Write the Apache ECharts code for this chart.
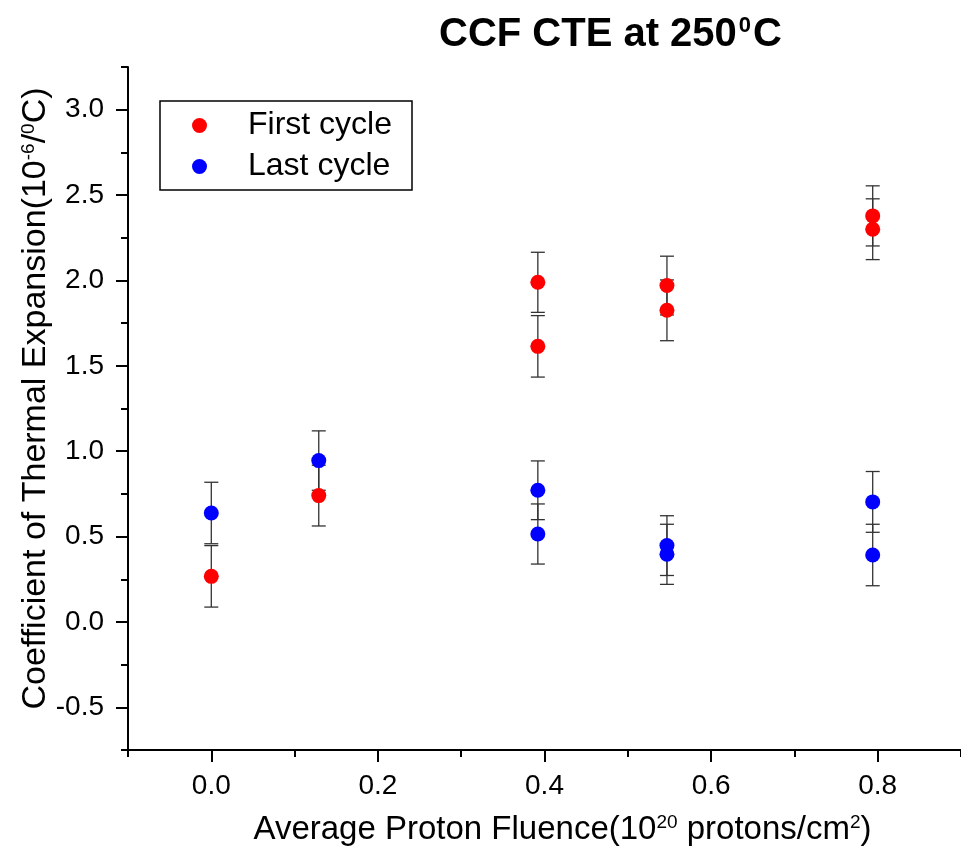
<!DOCTYPE html>
<html>
<head>
<meta charset="utf-8">
<script src="https://cdn.jsdelivr.net/npm/echarts@6/dist/echarts.min.js"></script>
<style>html,body{margin:0;padding:0;background:#fff}#c{width:961px;height:855px}</style>
</head>
<body>
<div id="c"></div>
<script>
// ---- data ----
var firstX   = [0.0, 0.129, 0.392, 0.392, 0.547, 0.547, 0.794, 0.794];
var firstY   = [0.267, 0.740, 1.989, 1.614, 1.970, 1.825, 2.378, 2.300];
var firstErr = [0.180, 0.178, 0.176, 0.180, 0.172, 0.178, 0.176, 0.178];
var lastX    = [0.0, 0.129, 0.392, 0.392, 0.547, 0.547, 0.794, 0.794];
var lastY    = [0.638, 0.945, 0.771, 0.515, 0.447, 0.396, 0.703, 0.392];
var lastErr  = [0.180, 0.174, 0.172, 0.176, 0.175, 0.176, 0.178, 0.180];
var xMajorTicks = [0.0, 0.2, 0.4, 0.6, 0.8];
var xMinorTicks = [-0.1, 0.1, 0.3, 0.5, 0.7, 0.9];
var yMajorTicks = [-0.5, 0.0, 0.5, 1.0, 1.5, 2.0, 2.5, 3.0];
var yMinorTicks = [-0.75, -0.25, 0.25, 0.75, 1.25, 1.75, 2.25, 2.75, 3.25];

var FONT = 'Liberation Sans, Arial, sans-serif';
function pts(xs, ys) { return xs.map(function (x, i) { return [x, ys[i]]; }); }
function errs(xs, ys, es) { return xs.map(function (x, i) { return [x, ys[i] - es[i], ys[i] + es[i]]; }); }

function errRender(params, api) {
  var x = api.value(0), lo = api.value(1), hi = api.value(2);
  var pLo = api.coord([x, lo]), pHi = api.coord([x, hi]);
  var hw = 7;
  var st = { stroke: '#333', lineWidth: 1.3 };
  return {
    type: 'group',
    children: [
      { type: 'line', shape: { x1: pLo[0], y1: pLo[1], x2: pHi[0], y2: pHi[1] }, style: st },
      { type: 'line', shape: { x1: pLo[0] - hw, y1: pLo[1], x2: pLo[0] + hw, y2: pLo[1] }, style: st },
      { type: 'line', shape: { x1: pHi[0] - hw, y1: pHi[1], x2: pHi[0] + hw, y2: pHi[1] }, style: st }
    ]
  };
}

function tickAxis(kind, min, max, values, len) {
  return {
    type: 'value', min: min, max: max, position: kind === 'x' ? 'bottom' : 'left',
    axisLine: { show: false, onZero: false },
    axisTick: { show: true, length: len, lineStyle: { color: '#000', width: 2 }, customValues: values },
    axisLabel: { show: false }, splitLine: { show: false }
  };
}

var supStyle = { fontFamily: FONT, fontSize: 19, color: '#000', verticalAlign: 'top', lineHeight: 16 };
var axisLineStyle = { color: '#000', width: 2 };
var chart = echarts.init(document.getElementById('c'), null, { renderer: 'canvas' });
chart.setOption({
  animation: false,
  backgroundColor: '#fff',
  title: {
    text: 'CCF CTE at 250{sup|0}C',
    left: 434, top: 10,
    textStyle: {
      fontFamily: FONT, fontSize: 40, fontWeight: 'bold', color: '#000',
      rich: { sup: { fontFamily: FONT, fontSize: 22, fontWeight: 'bold', color: '#000', verticalAlign: 'top', lineHeight: 17, padding: [0, 2, 0, 2] } }
    }
  },
  legend: {
    orient: 'vertical',
    left: 160, top: 101,
    padding: [8, 20, 7, 32],
    itemGap: 8,
    itemWidth: 15, itemHeight: 15,
    borderColor: '#000', borderWidth: 1.5, borderRadius: 0,
    icon: 'circle',
    data: ['First cycle', 'Last cycle'],
    textStyle: { fontFamily: FONT, fontSize: 32, color: '#000', lineHeight: 33, padding: [0, 0, 0, 36] }
  },
  grid: { left: 128, right: -5, top: 67, bottom: 105, containLabel: false },
  xAxis: [{
    type: 'value', min: -0.1, max: 0.9,
    axisLine: { show: true, onZero: false, lineStyle: axisLineStyle },
    axisTick: { show: false },
    axisLabel: { fontFamily: FONT, fontSize: 28, color: '#000', margin: 22, customValues: xMajorTicks,
      formatter: function (v) { return v.toFixed(1); } },
    splitLine: { show: false },
    name: 'Average Proton Fluence(10{sup|20} protons/cm{sup|2})',
    nameLocation: 'middle', nameGap: 63,
    nameTextStyle: { fontFamily: FONT, fontSize: 33, color: '#000', padding: [0, 0, 0, 36], rich: { sup: supStyle } }
  },
  tickAxis('x', -0.1, 0.9, xMajorTicks, 12),
  tickAxis('x', -0.1, 0.9, xMinorTicks, 7)],
  yAxis: [{
    type: 'value', min: -0.75, max: 3.25,
    axisLine: { show: true, onZero: false, lineStyle: axisLineStyle },
    axisTick: { show: false },
    axisLabel: { fontFamily: FONT, fontSize: 28, color: '#000', margin: 24, customValues: yMajorTicks,
      formatter: function (v) { return v.toFixed(1); } },
    splitLine: { show: false },
    name: 'Coefficient of Thermal Expansion(10{sup|-6}/{sup|0}C)',
    nameLocation: 'middle', nameGap: 75, nameRotate: 90, nameMoveOverlap: false,
    nameTextStyle: { fontFamily: FONT, fontSize: 34, color: '#000', padding: [0, 0, 0, 20], rich: { sup: supStyle } }
  },
  tickAxis('y', -0.75, 3.25, yMajorTicks, 12),
  tickAxis('y', -0.75, 3.25, yMinorTicks, 7)],
  series: [
    { name: 'First cycle err', type: 'custom', xAxisIndex: 0, yAxisIndex: 0, renderItem: errRender,
      data: errs(firstX, firstY, firstErr), z: 2, silent: true },
    { name: 'Last cycle err', type: 'custom', xAxisIndex: 0, yAxisIndex: 0, renderItem: errRender,
      data: errs(lastX, lastY, lastErr), z: 2, silent: true },
    { name: 'First cycle', type: 'scatter', symbol: 'circle', symbolSize: 15, z: 3,
      itemStyle: { color: '#ff0000', opacity: 1 }, data: pts(firstX, firstY) },
    { name: 'Last cycle', type: 'scatter', symbol: 'circle', symbolSize: 15, z: 3,
      itemStyle: { color: '#0000ff', opacity: 1 }, data: pts(lastX, lastY) }
  ]
});
</script>
</body>
</html>
